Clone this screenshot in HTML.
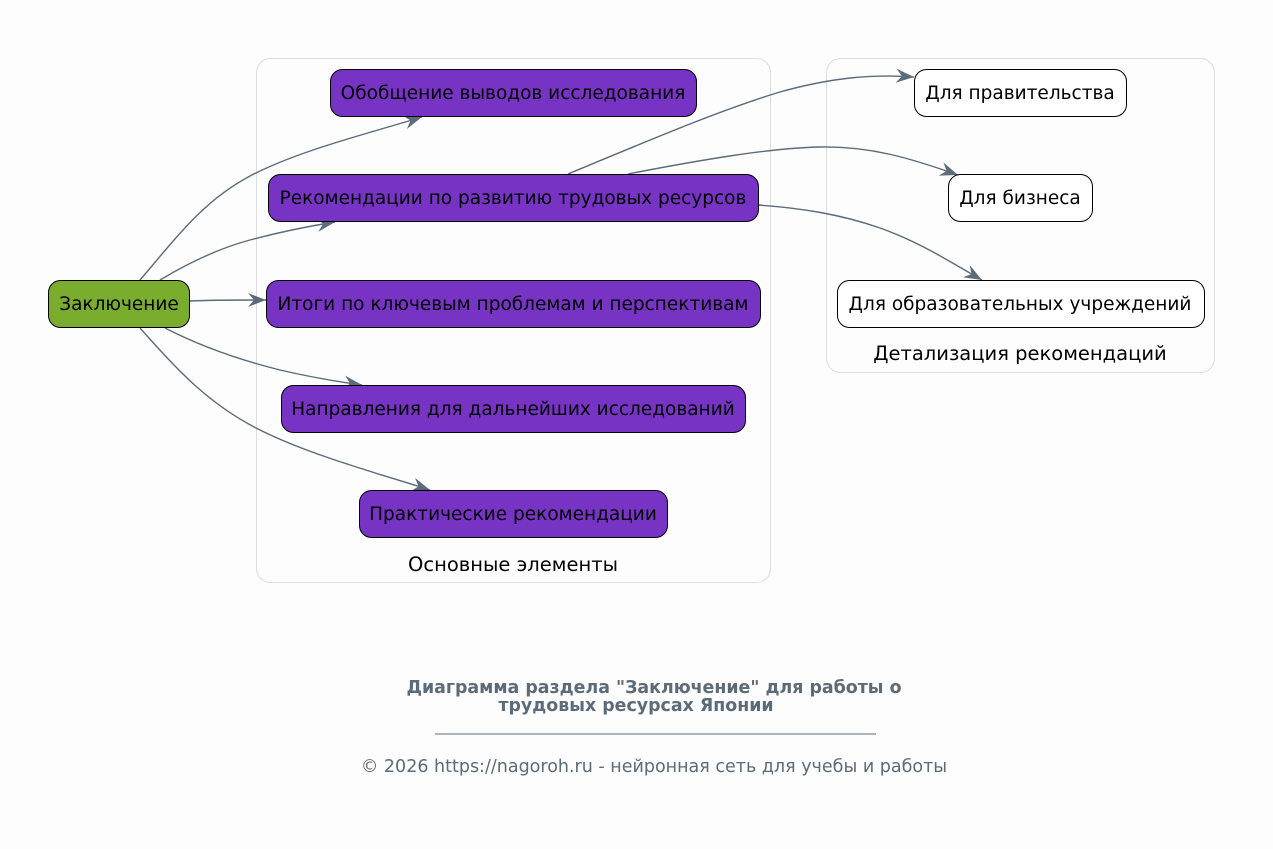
<!DOCTYPE html>
<html><head><meta charset="utf-8"><style>
html,body{margin:0;padding:0;background:#fdfdfd;}
svg{display:block;font-family:"DejaVu Sans","Liberation Sans",sans-serif;}
</style></head><body>
<svg width="1273" height="849" viewBox="0 0 1273 849" xmlns="http://www.w3.org/2000/svg">
<defs>
<marker id="a" viewBox="0 0 20 20" refX="18" refY="10" markerWidth="20" markerHeight="20" markerUnits="userSpaceOnUse" orient="auto">
<path d="M0,3 L18,10 L0,17 L6,10 Z" fill="#5c6b7a"/>
</marker>
</defs>
<rect width="1273" height="849" fill="#fdfdfd"/>
<rect x="256.5" y="58.5" width="514" height="524" rx="14" fill="none" stroke="#dddddd"/>
<text x="513" y="571" font-size="19.5" text-anchor="middle" fill="#000">Основные элементы</text>
<rect x="826.5" y="58.5" width="388" height="314" rx="14" fill="none" stroke="#dddddd"/>
<text x="1020" y="360" font-size="19.5" text-anchor="middle" fill="#000">Детализация рекомендаций</text>

<g fill="none" stroke="#5c6b7a" stroke-width="1.4" marker-end="url(#a)">
<path d="M140,280 C180,233 205,200 250,176 C300,150 370,133 422,117"/>
<path d="M160,280 C190,262 220,248 250,240 C280,232 310,226 335,222"/>
<path d="M189,301 C215,300 240,300 266,300"/>
<path d="M165,328 C200,346 240,360 280,370 C310,377 340,382 362,385"/>
<path d="M140,328 C180,373 210,405 260,430 C310,455 380,474 430,490"/>
<path d="M568,174 C650,140 720,110 780,92 C830,78 870,74 914,77"/>
<path d="M628,174 C700,160 770,148 820,147 C870,146 910,158 958,175"/>
<path d="M758,205 C800,208 840,214 880,228 C920,242 950,262 982,280"/>
</g>

<g stroke="#000" stroke-width="1">
<rect x="48.5" y="280.5" width="141" height="47" rx="12" fill="#7aad2e"/>
<rect x="330.5" y="69.5" width="366" height="47" rx="12" fill="#7733c4"/>
<rect x="268.5" y="174.5" width="490" height="47" rx="12" fill="#7733c4"/>
<rect x="266.5" y="280.5" width="494" height="47" rx="12" fill="#7733c4"/>
<rect x="281.5" y="385.5" width="464" height="47" rx="12" fill="#7733c4"/>
<rect x="359.5" y="490.5" width="308" height="47" rx="12" fill="#7733c4"/>
<rect x="914.5" y="69.5" width="212" height="47" rx="12" fill="#fff"/>
<rect x="948.5" y="174.5" width="144" height="47" rx="12" fill="#fff"/>
<rect x="837.5" y="280.5" width="367" height="47" rx="12" fill="#fff"/>
</g>

<g font-size="18.5" text-anchor="middle" fill="#000">
<text x="119" y="310">Заключение</text>
<text x="513" y="99">Обобщение выводов исследования</text>
<text x="513" y="204">Рекомендации по развитию трудовых ресурсов</text>
<text x="513" y="310">Итоги по ключевым проблемам и перспективам</text>
<text x="513" y="415">Направления для дальнейших исследований</text>
<text x="513" y="520">Практические рекомендации</text>
<text x="1020" y="99">Для правительства</text>
<text x="1020" y="204">Для бизнеса</text>
<text x="1020" y="310">Для образовательных учреждений</text>
</g>

<g fill="#5c6b7a" text-anchor="middle">
<text x="654" y="693" font-size="17.4" font-weight="bold">Диаграмма раздела "Заключение" для работы о</text>
<text x="636" y="711" font-size="17.4" font-weight="bold">трудовых ресурсах Японии</text>
<line x1="435" y1="734" x2="876" y2="734" stroke="#5c6b7a" stroke-width="1"/>
<text x="654" y="772" font-size="17.5">© 2026 https://nagoroh.ru - нейронная сеть для учебы и работы</text>
</g>
</svg>
</body></html>
